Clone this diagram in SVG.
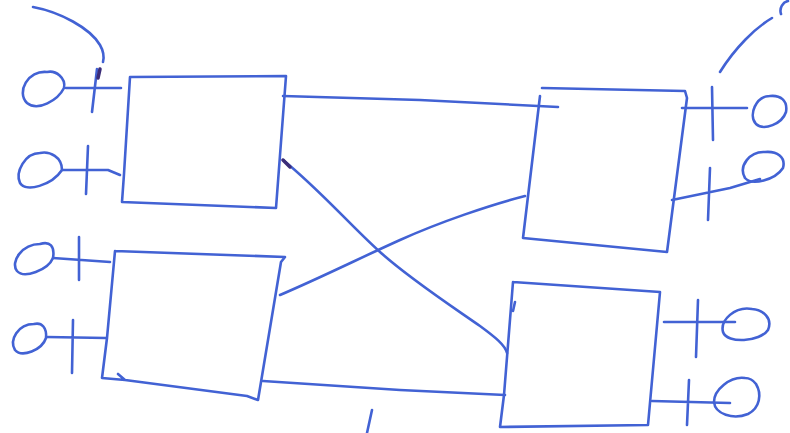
<svg xmlns="http://www.w3.org/2000/svg" width="790" height="433" viewBox="0 0 790 433">
<style>
.s{fill:none;stroke:#4262d4;stroke-width:2.6;stroke-linecap:round;stroke-linejoin:round}
.d{fill:none;stroke:#3b2c78;stroke-width:3.5;stroke-linecap:round}
</style>
<rect width="790" height="433" fill="#ffffff"/>
<g id="boxA">
<path class="s" d="M130,77 L286,76 L276,208 L122,202 L124,174 L130,77"/>
<path class="s" d="M66,88 L121,88 M97,69 L92,112"/>
<path class="d" d="M100,69 L98,78"/>
<path class="s" d="M47,72 C28,70 16,92 27,103 C38,112 58,100 64,88 C66,78 56,70 47,72"/>
<path class="s" d="M62,170 L108,170 L120,175 M88,146 L86,194"/>
<path class="s" d="M40,153 C25,153 15,172 20,183 C26,193 52,185 62,170 C62,157 50,151 40,153"/>
<path class="s" d="M33,7 C60,12 90,28 100,45 C104,52 104,58 103,62"/>
</g>
<g id="boxB">
<path class="s" d="M542,88 L685,91 L687,98 L667,252 L523,238 L540,96"/>
<path class="s" d="M682,108 L747,108 M712,87 L713,140"/>
<path class="s" d="M770,96 C756,96 748,115 756,124 C764,131 782,124 786,112 C788,100 780,95 770,96"/>
<path class="s" d="M672,200 L730,188 L760,179 M710,168 L708,220"/>
<path class="s" d="M765,152 C750,151 738,166 745,178 C752,186 775,180 783,168 C786,157 777,151 765,152"/>
<path class="s" d="M720,72 C735,48 755,28 772,18"/>
<path class="s" d="M781,14 C779,8 783,2 788,1"/>
</g>
<g id="boxC">
<path class="s" d="M115,251 L285,257 L281,262 L258,400 L247,396 L125,380 L118,374 M125,380 L102,378 L107,338 L115,251"/>
<path class="s" d="M53,258 L110,262 M79,237 L79,280"/>
<path class="s" d="M40,244 C22,244 10,262 17,271 C24,279 48,270 53,258 C55,246 50,241 40,244"/>
<path class="s" d="M47,337 L106,338 M73,320 L72,373"/>
<path class="s" d="M34,324 C18,324 9,340 15,350 C22,358 42,350 46,338 C47,328 42,322 34,324"/>
</g>
<g id="boxD">
<path class="s" d="M513,282 L660,292 L648,425 L500,427 L504,395 L513,282"/>
<path class="s" d="M664,322 L735,322 M698,300 L696,357"/>
<path class="s" d="M752,309 C735,306 720,320 723,332 C727,344 760,342 768,330 C773,318 763,310 752,309"/>
<path class="s" d="M652,401 L730,403 M689,380 L687,425"/>
<path class="s" d="M745,378 C730,376 714,390 714,402 C715,414 733,420 748,414 C760,408 762,394 756,384 C753,380 750,378 745,378"/>
<path class="s" d="M515,302 L513,311"/>
</g>
<g id="connectors">
<path class="s" d="M283,96 L420,100 L558,107"/>
<path class="s" d="M280,295 C320,278 360,258 400,240 C440,222 490,205 525,196"/>
<path class="s" d="M283,160 C320,190 350,225 380,252 C410,279 450,305 480,326 C495,337 505,345 507,353"/>
<path class="d" d="M283,160 L290,167"/>
<path class="s" d="M263,381 L400,390 L505,395"/>
<path class="s" d="M372,410 L367,433"/>
</g>
</svg>
